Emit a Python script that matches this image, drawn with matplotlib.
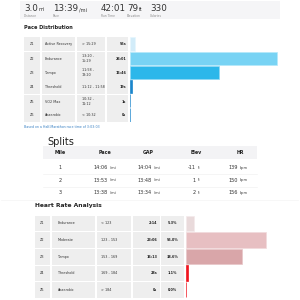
import matplotlib
matplotlib.use("Agg")
import matplotlib.pyplot as plt
from matplotlib.patches import Rectangle

# ---------------- data ----------------
stat_values = ["3.0", "13:39", "42:01", "79", "330"]
stat_units = ["mi", "/mi", "", "ft", ""]
stat_labels = ["Distance", "Pace", "Run Time", "Elevation", "Calories"]

pace_zones = ["Z1", "Z2", "Z3", "Z4", "Z5", "Z6"]
pace_names = ["Active Recovery", "Endurance", "Tempo", "Threshold", "VO2 Max", "Anaerobic"]
pace_ranges = ["> 15:29", "13:20 -\n15:29", "11:58 -\n13:20", "11:12 - 11:58", "10:32 -\n11:12", "< 10:32"]
pace_times = ["55s", "26:01", "15:46", "19s", "1s", "0s"]
pace_seconds = [55, 1561, 946, 19, 1, 0]
pace_colors = ["#d2ecf9", "#78d3f4", "#2cb7ea", "#1b86cc", "#1b86cc", "#1b86cc"]
footnote = "Based on a Half-Marathon race time of 3:03:03"

split_headers = ["Mile", "Pace", "GAP", "Elev", "HR"]
split_miles = ["1", "2", "3"]
split_pace = ["14:06", "13:53", "13:38"]
split_gap = ["14:04", "13:48", "13:34"]
split_elev = ["-11", "1", "2"]
split_hr = ["139", "150", "156"]

hr_zones = ["Z1", "Z2", "Z3", "Z4", "Z5"]
hr_names = ["Endurance", "Moderate", "Tempo", "Threshold", "Anaerobic"]
hr_ranges = ["< 123", "123 - 153", "153 - 169", "169 - 184", "> 184"]
hr_times = ["2:14", "23:06", "16:13", "28s", "0s"]
hr_pct = [5.3, 55.0, 38.6, 1.1, 0.0]
hr_colors = ["#e9dadb", "#e7bfc2", "#d9a6a9", "#f0141e", "#f0141e"]

# ---------------- figure ----------------
fig = plt.figure(figsize=(3, 3), dpi=100)
fig.patch.set_facecolor("white")
ax = fig.add_axes([0, 0, 1, 1])
ax.set_xlim(0, 300)
ax.set_ylim(300, 0)
ax.axis("off")
fig.canvas.draw()
renderer = fig.canvas.get_renderer()

TXT = "#333333"
LBL = "#8a8a8a"
CELL = "#eeeeee"

# top banner
ax.add_patch(Rectangle((20, 1), 260, 18, color="#f5f5f7", lw=0))
stat_x = [24, 53, 101, 127, 150]
for x, v, u, l in zip(stat_x, stat_values, stat_units, stat_labels):
    t = ax.text(x, 11, v, fontsize=6.3, color=TXT, va="baseline", ha="left")
    if u:
        bb = t.get_window_extent(renderer=renderer)
        ux = bb.x1 + 0.6  # pixels (figure is 300px, axes span full figure)
        ax.text(ux, 11, u, fontsize=3.6, color=TXT, va="baseline", ha="left")
    ax.text(x, 16, l, fontsize=2.2, color=LBL, va="center", ha="left")

ax.text(24, 27.5, "Pace Distribution", fontsize=3.6, fontweight="bold", color="#222222", va="center")

# pace table
pace_cols = [(24, 16), (42, 33), (77, 28), (107, 21)]
pace_row_top = [37, 52, 66, 80, 95, 109]
pace_row_h = [14, 13.5, 13.5, 14, 13.5, 13]
for i in range(6):
    y0 = pace_row_top[i]
    h = pace_row_h[i]
    for cx, cw in pace_cols:
        ax.add_patch(Rectangle((cx, y0), cw, h, color=CELL, lw=0))
    yc = y0 + h / 2
    ax.text(32, yc, pace_zones[i], fontsize=2.4, color=TXT, ha="center", va="center")
    ax.text(45, yc, pace_names[i], fontsize=2.4, color=TXT, ha="left", va="center")
    ax.text(82, yc, pace_ranges[i], fontsize=2.4, color=TXT, ha="left", va="center", linespacing=1.2)
    ax.text(126, yc, pace_times[i], fontsize=2.4, color="#222222", ha="right", va="center", fontweight="bold")
ax.text(24, 127.5, footnote, fontsize=2.3, color="#3b82c4", ha="left", va="center")

# pace bars
pax = fig.add_axes([130 / 300, (300 - 122) / 300, 150 / 300, 85 / 300])
pax.barh(range(len(pace_seconds)), pace_seconds, height=0.94, color=pace_colors,
         edgecolor=["#e6f6fd", "#b5e8fa", "#8fd8f4", "#1b86cc", "#1b86cc", "#1b86cc"], linewidth=0.5)
pax.set_xlim(0, 1561 * 150 / 147)
pax.set_ylim(5.5, -0.5)
pax.axis("off")

# splits
ax.text(47, 145, "Splits", fontsize=7, color="#222222", ha="left", va="baseline")
ax.add_patch(Rectangle((43, 146), 214, 13, color="#f3f3f5", lw=0))
split_x = [60, 105, 148, 196, 240]
for x, h in zip(split_x, split_headers):
    ax.text(x, 153, h, fontsize=3.4, fontweight="bold", color="#222222", ha="center", va="center")
row_y = [167.5, 180, 192.5]
for y in [174, 186.5]:
    ax.plot([43, 257], [y, y], color="#f2f2f2", lw=0.5)
ax.plot([1, 298], [199.5, 199.5], color="#f4f4f4", lw=0.5)
for i in range(3):
    y = row_y[i]
    ax.text(60, y, split_miles[i], fontsize=3.6, color=TXT, ha="center", va="center")
    ax.text(101, y, split_pace[i], fontsize=3.6, color=TXT, ha="center", va="center")
    ax.text(110, y + 0.3, "/mi", fontsize=2.5, color=TXT, ha="left", va="center")
    ax.text(145, y, split_gap[i], fontsize=3.6, color=TXT, ha="center", va="center")
    ax.text(154, y + 0.3, "/mi", fontsize=2.5, color=TXT, ha="left", va="center")
    ax.text(196, y, split_elev[i], fontsize=3.6, color=TXT, ha="right", va="center")
    ax.text(198, y + 0.3, "ft", fontsize=2.5, color=TXT, ha="left", va="center")
    ax.text(238, y, split_hr[i], fontsize=3.6, color=TXT, ha="right", va="center")
    ax.text(240, y + 0.3, "bpm", fontsize=2.5, color=TXT, ha="left", va="center")

# heart rate analysis
ax.text(35, 205, "Heart Rate Analysis", fontsize=4.3, fontweight="bold", color="#222222", va="center")
hr_cols = [(35, 15), (52, 43), (97, 34), (133, 27), (161, 23)]
hr_row_top = [215.5, 232, 249, 265.5, 282]
for i in range(5):
    y0 = hr_row_top[i]
    h = 15.5
    for cx, cw in hr_cols:
        ax.add_patch(Rectangle((cx, y0), cw, h, color=CELL, lw=0))
    yc = y0 + h / 2
    ax.text(42.5, yc, hr_zones[i], fontsize=2.4, color=TXT, ha="center", va="center")
    ax.text(58, yc, hr_names[i], fontsize=2.4, color=TXT, ha="left", va="center")
    ax.text(101, yc, hr_ranges[i], fontsize=2.4, color=TXT, ha="left", va="center")
    ax.text(157, yc, hr_times[i], fontsize=2.4, color="#222222", ha="right", va="center", fontweight="bold")
    ax.text(172.5, yc, f"{hr_pct[i]:.1f}%", fontsize=2.4, color="#222222", ha="center", va="center", fontweight="bold")

hax = fig.add_axes([186 / 300, (300 - 297.5) / 300, 100 / 300, 82 / 300])
hax.barh(range(len(hr_pct)), hr_pct, height=0.94, color=hr_colors,
         edgecolor=["#f3eaeb", "#f1dadc", "#e8c6c8", "#f0141e", "#f0141e"], linewidth=0.5)
hax.set_xlim(0, 100 / 1.45)
hax.set_ylim(4.5, -0.5)
hax.axis("off")

fig.savefig("out.png", dpi=100, facecolor="white")
